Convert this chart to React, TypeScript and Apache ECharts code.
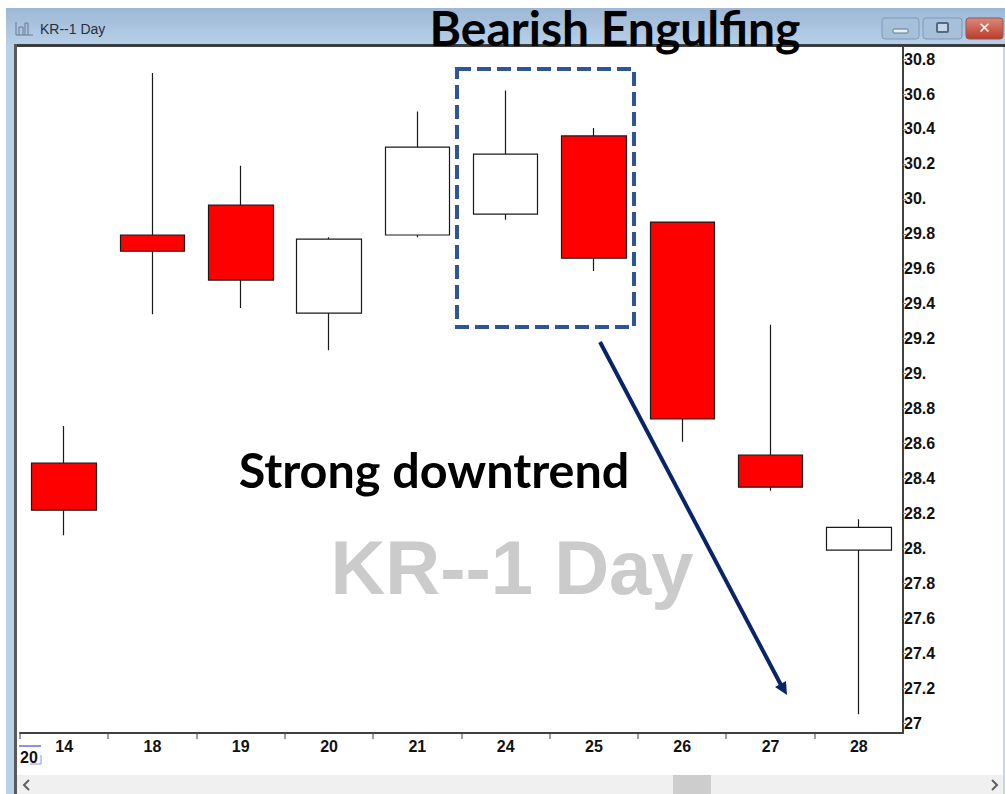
import React, { useEffect, useRef } from "react";
import * as echarts from "echarts";

const categories = ["14", "18", "19", "20", "21", "24", "25", "26", "27", "28"];
// [open, close, low, high]
const opens = [28.487, 29.793, 29.964, 29.346, 29.793, 29.913, 30.36, 29.867, 28.533, 27.99];
const closes = [28.218, 29.7, 29.535, 29.77, 30.296, 30.256, 29.66, 28.74, 28.35, 28.12];
const lows = [28.075, 29.34, 29.375, 29.134, 29.78, 29.88, 29.587, 28.61, 28.33, 27.05];
const highs = [28.7, 30.72, 30.19, 29.78, 30.5, 30.62, 30.405, 29.867, 29.28, 28.167];
const yTicks = [27, 27.2, 27.4, 27.6, 27.8, 28, 28.2, 28.4, 28.6, 28.8, 29, 29.2, 29.4, 29.6, 29.8, 30, 30.2, 30.4, 30.6, 30.8];
const yTickLabels = ["27", "27.2", "27.4", "27.6", "27.8", "28.", "28.2", "28.4", "28.6", "28.8", "29.", "29.2", "29.4", "29.6", "29.8", "30.", "30.2", "30.4", "30.6", "30.8"];
const xBoundaryTicks = [20, 108, 197, 285, 373, 462, 550, 638, 726, 815];

export default function App() {
  const ref = useRef<HTMLDivElement>(null);
  useEffect(() => {
    document.body.style.margin = "0";
    const chart = echarts.init(ref.current!, null, { renderer: "svg" });
    const noteFont = "Lato";
    const graphic: any[] = [
      { type: "rect", z: 0, shape: { x: 6, y: 8, width: 999, height: 39 }, style: { fill: new echarts.graphic.LinearGradient(0, 0, 0, 1, [{ offset: 0, color: "#9db7d5" }, { offset: 1, color: "#b9d2ea" }]) } },
      { type: "rect", z: 0, shape: { x: 6, y: 47, width: 8, height: 747 }, style: { fill: "#b9d2ea" } },
      { type: "rect", z: 0, shape: { x: 14, y: 44, width: 991, height: 3 }, style: { fill: "#3c3c3c" } },
      { type: "rect", z: 0, shape: { x: 14, y: 44, width: 3, height: 750 }, style: { fill: "#5a5a5a" } },
      { type: "rect", z: 0, shape: { x: 1003, y: 47, width: 2, height: 747 }, style: { fill: "#c5d6e8" } },
      { type: "rect", z: 0, shape: { x: 17, y: 775, width: 986, height: 19 }, style: { fill: "#f0f0f0" } },
      { type: "rect", z: 1, shape: { x: 673, y: 775, width: 38, height: 19 }, style: { fill: "#cdcdcd" } },
      { type: "polyline", z: 1, shape: { points: [[29, 780], [24, 785], [29, 790]] }, style: { stroke: "#606060", fill: "none", lineWidth: 2 } },
      { type: "polyline", z: 1, shape: { points: [[992, 780], [997, 785], [992, 790]] }, style: { stroke: "#606060", fill: "none", lineWidth: 2 } },
      // title bar
      { type: "text", z: 3, x: 40, y: 29, style: { text: "KR--1 Day", fill: "#2a2f3a", font: "14px 'Liberation Sans'", textVerticalAlign: "middle" } },
      { type: "polyline", z: 3, shape: { points: [[16, 22], [16, 35], [33, 35]] }, style: { stroke: "#6b7a8c", fill: "none", lineWidth: 1 } },
      { type: "polyline", z: 3, shape: { points: [[19, 35], [19, 27], [23, 27], [23, 35]] }, style: { stroke: "#6b7a8c", fill: "none", lineWidth: 1 } },
      { type: "polyline", z: 3, shape: { points: [[25, 35], [25, 23], [28, 23], [28, 35]] }, style: { stroke: "#6b7a8c", fill: "none", lineWidth: 1 } },
      // window buttons
      { type: "rect", z: 3, shape: { x: 882, y: 18, width: 37, height: 21, r: 3 }, style: { fill: "#a7c0da", stroke: "#7f9ab8" } },
      { type: "rect", z: 4, shape: { x: 893, y: 29, width: 15, height: 4, r: 1 }, style: { fill: "#e8eef5", stroke: "#5f7893" } },
      { type: "rect", z: 3, shape: { x: 923, y: 18, width: 39, height: 21, r: 3 }, style: { fill: "#a7c0da", stroke: "#7f9ab8" } },
      { type: "rect", z: 4, shape: { x: 937, y: 23, width: 11, height: 9, r: 1 }, style: { fill: "#c5d6e8", stroke: "#54687f", lineWidth: 2 } },
      { type: "rect", z: 3, shape: { x: 966, y: 18, width: 37, height: 21, r: 3 }, style: { fill: new echarts.graphic.LinearGradient(0, 0, 0, 1, [{ offset: 0, color: "#d98a7c" }, { offset: 1, color: "#bd3a28" }]), stroke: "#8f5a58" } },
      { type: "text", z: 4, x: 984.5, y: 28, style: { text: "✕", fill: "#f2f2f2", font: "bold 15px 'DejaVu Sans'", textAlign: "center", textVerticalAlign: "middle" } },
      // x axis boundary ticks
      ...xBoundaryTicks.map((x) => ({ type: "line", z: 5, shape: { x1: x, y1: 733, x2: x, y2: 739 }, style: { stroke: "#404040", lineWidth: 1 } })),
      { type: "text", z: 5, x: 20, y: 757, style: { text: "20", fill: "#111", font: "bold 16px 'Liberation Sans'", textVerticalAlign: "middle" } },
      { type: "line", z: 5, shape: { x1: 19, y1: 746, x2: 41, y2: 746 }, style: { stroke: "#8f8ff0", lineWidth: 2 } },
      { type: "polyline", z: 5, shape: { points: [[30, 764], [41, 764], [41, 755]] }, style: { stroke: "#8f8ff0", fill: "none", lineWidth: 1 } },
      // annotations
      { type: "text", z: 6, x: 615, y: 27, style: { text: "Bearish Engulfing", fill: "#000", font: "bold 48px " + noteFont, textAlign: "center", textVerticalAlign: "middle" } },
      { type: "text", z: 2, x: 512, y: 567, style: { text: "KR--1 Day", fill: "#cbcbcb", font: "bold 76px 'Liberation Sans'", textAlign: "center", textVerticalAlign: "middle" } },
      { type: "text", z: 6, x: 434, y: 469, style: { text: "Strong downtrend", fill: "#000", font: "bold 48.5px " + noteFont, textAlign: "center", textVerticalAlign: "middle" } },
      { type: "rect", z: 6, shape: { x: 457, y: 69, width: 177, height: 258 }, style: { fill: "none", stroke: "#2f5597", lineWidth: 4, lineDash: [14, 6] } },
      { type: "line", z: 6, shape: { x1: 600, y1: 342, x2: 781, y2: 685 }, style: { stroke: "#0a2566", lineWidth: 4 } },
      { type: "polygon", z: 6, shape: { points: [[787, 695], [775, 687], [786, 681]] }, style: { fill: "#0a2566" } },
    ];
    chart.setOption({
      animation: false,
      backgroundColor: "#ffffff",
      grid: { left: 20, right: 102, top: 47, bottom: 61 },
      xAxis: {
        type: "category",
        data: categories,
        boundaryGap: true,
        axisLine: { lineStyle: { color: "#404040", width: 2 } },
        axisTick: { show: false },
        axisLabel: { color: "#111", fontFamily: "Liberation Sans", fontWeight: "bold", fontSize: 16, margin: 5, interval: 0 },
        splitLine: { show: false },
      },
      yAxis: {
        type: "value",
        position: "right",
        min: 26.943,
        max: 30.869,
        axisLine: { show: true, lineStyle: { color: "#404040", width: 2 } },
        axisTick: { show: true, inside: false, length: 3, lineStyle: { color: "#808080" }, customValues: yTicks },
        axisLabel: {
          color: "#111",
          fontFamily: "Liberation Sans",
          fontWeight: "bold",
          fontSize: 16,
          margin: 1,
          customValues: yTicks,
          formatter: (v: number) => yTickLabels[yTicks.findIndex((t) => Math.abs(t - v) < 1e-6)] ?? "",
        },
        splitLine: { show: false },
      },
      series: [
        {
          type: "candlestick",
          barWidth: 65,
          z: 4,
          data: categories.map((_, i) => [opens[i], closes[i], lows[i], highs[i]]),
          itemStyle: { color: "#ffffff", color0: "#ff0000", borderColor: "#1a1a1a", borderColor0: "#1a1a1a", borderWidth: 1.2 },
        },
      ],
      graphic,
    });
    return () => chart.dispose();
  }, []);
  return <div ref={ref} style={{ width: 1005, height: 794 }} />;
}
